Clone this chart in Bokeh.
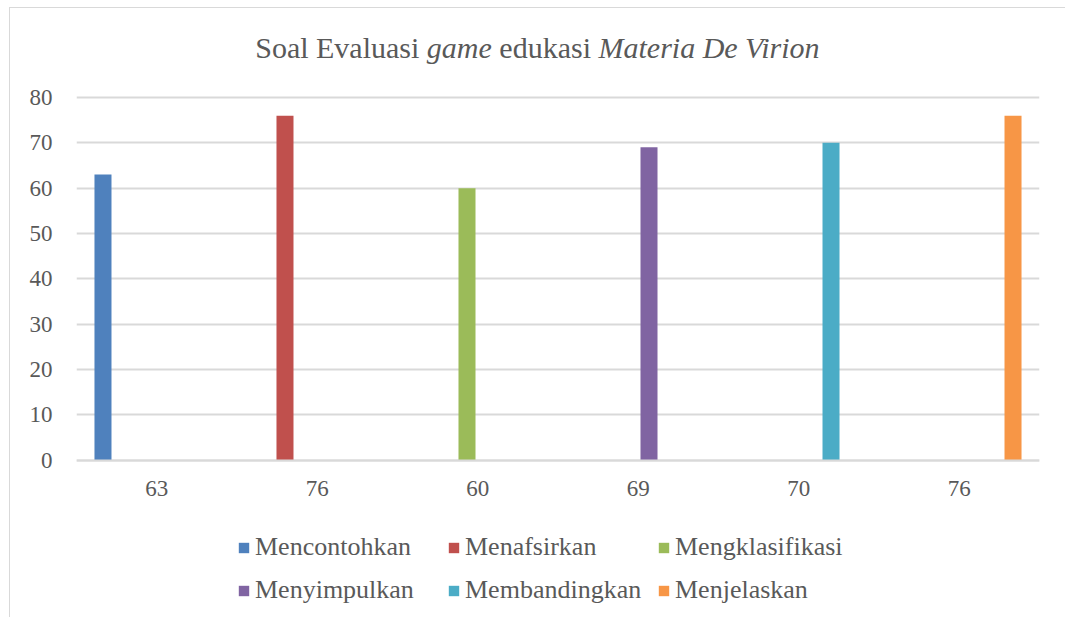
from bokeh.plotting import figure
from bokeh.models import (ColumnDataSource, FixedTicker, Legend, LegendItem, Label)
from bokeh.embed import file_html
from bokeh.resources import INLINE

# ---- data ----
categories = ["63", "76", "60", "69", "70", "76"]
series_names = ["Mencontohkan", "Menafsirkan", "Mengklasifikasi",
                "Menyimpulkan", "Membandingkan", "Menjelaskan"]
series_values = [63, 76, 60, 69, 70, 76]
y_ticks = [0, 10, 20, 30, 40, 50, 60, 70, 80]
colors = ["#4F81BD", "#C0504D", "#9BBB59", "#8064A2", "#4BACC6", "#F79646"]
title_parts = [("Soal Evaluasi", "normal"), ("game", "italic"),
               ("edukasi", "normal"), ("Materia De Virion", "italic")]

FONT = "'Liberation Serif', 'Times New Roman', serif"
TXT = "#595959"
GRID = "#D9D9D9"

# layout (content box of figure starts at page (10, 8))
W, H = 1056, 610
ML, MR = 66, 27
ppu = 362.5 / 80.0            # pixels per y unit
y0_px = 459.5 - 8             # y=0 line, from figure top
y_top = y0_px / ppu
y_bot = -(H - y0_px) / ppu

p = figure(width=W, height=H, output_backend="svg", toolbar_location=None,
           x_range=(0, len(categories)), y_range=(y_bot, y_top),
           min_border_left=ML, min_border_right=MR, min_border_top=0,
           min_border_bottom=0)
p.styles = {"margin-left": "9px", "margin-top": "7px",
            "border-top": "1px solid #D9D9D9", "border-left": "1px solid #D9D9D9"}
p.outline_line_color = None
p.background_fill_color = "white"
p.border_fill_color = "white"

n = len(series_names)
step = 0.134
bw = 0.106
items = []
for j, (name, col) in enumerate(zip(series_names, colors)):
    xs = [i + 0.5 + (j - (n - 1) / 2) * step for i in range(len(categories))]
    tops = [series_values[j] if i == j else 0 for i in range(len(categories))]
    src = ColumnDataSource(dict(x=xs, top=tops))
    r = p.vbar(x="x", top="top", bottom=0, width=bw, source=src,
               fill_color=col, line_color=None)
    items.append(LegendItem(label=name, renderers=[r]))

# axes
xa = p.xaxis[0]
xa.fixed_location = 0
xa.ticker = FixedTicker(ticks=[i + 0.5 for i in range(len(categories))])
xa.major_label_overrides = {i + 0.5: c for i, c in enumerate(categories)}
xa.major_tick_line_color = None
xa.minor_tick_line_color = None
xa.axis_line_color = GRID
xa.axis_line_width = 2
xa.major_label_standoff = 15
xa.major_label_text_font = FONT
xa.major_label_text_font_size = "23px"
xa.major_label_text_color = TXT

ya = p.yaxis[0]
ya.ticker = FixedTicker(ticks=y_ticks)
ya.major_tick_line_color = None
ya.minor_tick_line_color = None
ya.axis_line_color = None
ya.major_label_standoff = 18
ya.major_label_text_font = FONT
ya.major_label_text_font_size = "23px"
ya.major_label_text_color = TXT

p.xgrid.grid_line_color = None
p.ygrid.grid_line_color = GRID
p.ygrid.grid_line_width = 2
p.ygrid.ticker = FixedTicker(ticks=y_ticks)

# legend (inside the frame area, below the axis)
legend = Legend(items=items, orientation="horizontal", ncols=3,
                label_text_font=FONT, label_text_font_size="26px",
                label_text_color=TXT, glyph_width=13, glyph_height=13,
                label_standoff=5, label_width=185, label_height=36, spacing=7,
                padding=0, margin=0, border_line_color=None,
                background_fill_alpha=0, location=(237 - 76, 10))
p.add_layout(legend, "center")

# title with mixed styles (Liberation Serif = Times metrics)
adv_normal = {"S": 556, "o": 500, "a": 444, "l": 278, " ": 250, "E": 611, "v": 500,
              "u": 500, "s": 389, "i": 278, "e": 444, "d": 500, "k": 500}
adv_italic = {"g": 500, "a": 500, "m": 722, "e": 444, "M": 833, "t": 278, "r": 389,
              "i": 278, " ": 250, "D": 722, "V": 611, "o": 500, "n": 500}
TS = 30
space = 250 * TS / 1000.0
widths = []
for txt, st in title_parts:
    tbl = adv_italic if st == "italic" else adv_normal
    widths.append(sum(tbl.get(c, 500) for c in txt) * TS / 1000.0)
total = sum(widths) + space * (len(title_parts) - 1)
frame_w = W - ML - MR
px_per_x = frame_w / len(categories)
center_px = 538 - 76          # relative to frame left
cur = center_px - total / 2
y_title = (459.5 - 47) / ppu
for (txt, st), w in zip(title_parts, widths):
    p.add_layout(Label(x=cur / px_per_x, y=y_title, text=txt, text_font=FONT,
                       text_font_style=st, text_font_size=f"{TS}px",
                       text_color=TXT, text_baseline="alphabetic",
                       text_align="left"))
    cur += w + space

open("out.html", "w").write(file_html(p, INLINE))
